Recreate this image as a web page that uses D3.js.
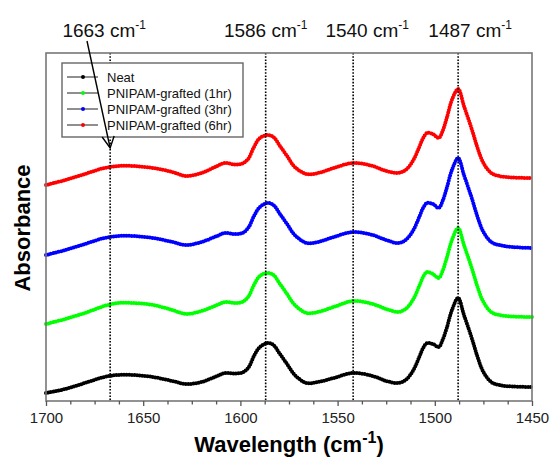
<!DOCTYPE html>
<html>
<head>
<meta charset="utf-8">
<script src="https://cdn.jsdelivr.net/npm/d3@7"></script>
<style>
body { margin: 0; background: #fff; }
svg { font-family: Arial, "Liberation Sans", sans-serif; }
</style>
</head>
<body>
<div id="chart"></div>
<script>
// wavenumbers (cm-1), shared by all four spectra
var wavenumbers = [1700, 1690, 1680, 1670, 1663, 1655, 1645, 1635, 1628, 1620,
    1612, 1608, 1603, 1599, 1596, 1593, 1590, 1586, 1583, 1580,
    1576, 1572, 1566, 1560, 1552, 1542, 1532, 1525, 1519, 1515,
    1511, 1508, 1506, 1504, 1501, 1498, 1496, 1494, 1491, 1488,
    1485, 1481, 1478, 1475, 1471, 1467, 1460, 1450];

// absorbance (a.u., stacked as in the figure)
var neat = [0.08, 0.12, 0.18, 0.24, 0.26, 0.26, 0.24, 0.20, 0.17, 0.19,
    0.25, 0.28, 0.275, 0.285, 0.33, 0.45, 0.54, 0.58, 0.56, 0.48,
    0.37, 0.26, 0.18, 0.19, 0.23, 0.28, 0.25, 0.20, 0.18, 0.21,
    0.31, 0.44, 0.53, 0.58, 0.57, 0.54, 0.61, 0.72, 0.92, 1.03,
    0.86, 0.63, 0.44, 0.29, 0.19, 0.16, 0.145, 0.14];
var grafted1 = [0.77, 0.82, 0.88, 0.95, 0.98, 0.98, 0.96, 0.91, 0.87, 0.90,
    0.96, 0.99, 0.98, 0.99, 1.04, 1.16, 1.25, 1.28, 1.26, 1.18,
    1.07, 0.96, 0.88, 0.89, 0.94, 1.00, 0.97, 0.92, 0.89, 0.92,
    1.02, 1.15, 1.24, 1.29, 1.27, 1.23, 1.30, 1.42, 1.62, 1.73,
    1.56, 1.33, 1.14, 0.99, 0.89, 0.86, 0.845, 0.84];
var grafted3 = [1.46, 1.51, 1.57, 1.63, 1.65, 1.65, 1.63, 1.59, 1.56, 1.59,
    1.65, 1.68, 1.67, 1.68, 1.73, 1.85, 1.94, 1.98, 1.96, 1.88,
    1.77, 1.66, 1.58, 1.59, 1.64, 1.69, 1.66, 1.61, 1.58, 1.61,
    1.71, 1.84, 1.93, 1.98, 1.97, 1.93, 2.00, 2.12, 2.32, 2.43,
    2.26, 2.03, 1.84, 1.69, 1.59, 1.56, 1.54, 1.53];
var grafted6 = [2.16, 2.21, 2.27, 2.33, 2.35, 2.35, 2.33, 2.29, 2.25, 2.28,
    2.35, 2.38, 2.365, 2.375, 2.42, 2.54, 2.63, 2.66, 2.64, 2.56,
    2.45, 2.34, 2.27, 2.28, 2.33, 2.38, 2.35, 2.30, 2.28, 2.31,
    2.41, 2.54, 2.63, 2.68, 2.67, 2.63, 2.70, 2.82, 3.02, 3.12,
    2.95, 2.72, 2.53, 2.38, 2.28, 2.25, 2.235, 2.23];

var seriesNames = ['Neat', 'PNIPAM-grafted (1hr)', 'PNIPAM-grafted (3hr)', 'PNIPAM-grafted (6hr)'];
var seriesValues = [neat, grafted1, grafted3, grafted6];
var seriesColors = ['#000000', '#00ff00', '#0000ff', '#ff0000'];

// dotted reference lines and their labels
var bandPositions = [1667, 1587, 1542, 1488];
var bandLabels = ['1663', '1586', '1540', '1487'];
var labelShift = [-6, 0, 14, 12];

var xTicks = [1700, 1650, 1600, 1550, 1500, 1450];

var width = 551,
    height = 461,
    plot = { left: 46, right: 532, top: 53, bottom: 401 },
    svg = d3.select('#chart').append('svg')
        .attr('width', width)
        .attr('height', height),
    x = d3.scaleLinear().domain([1700, 1450]).range([plot.left, plot.right]),
    y = d3.scaleLinear().domain([0, 3.48]).range([plot.bottom, plot.top]),
    line = d3.line()
        .x(function (d) { return x(d[0]); })
        .y(function (d) { return y(d[1]); })
        .curve(d3.curveCatmullRom.alpha(0.5));

// spectra
seriesValues.forEach(function (vals, i) {
    var pts = wavenumbers.map(function (w, j) { return [w, vals[j]]; });
    svg.append('path')
        .attr('d', line(pts))
        .attr('fill', 'none')
        .attr('stroke', '#333')
        .attr('stroke-width', 1);
    svg.append('path')
        .attr('d', line(pts))
        .attr('fill', 'none')
        .attr('stroke', seriesColors[i])
        .attr('stroke-width', 4)
        .attr('stroke-linecap', 'round')
        .attr('stroke-dasharray', '0 2.6');
});

// dotted band lines
svg.selectAll('line.band')
    .data(bandPositions)
    .enter()
    .append('line')
    .attr('class', 'band')
    .attr('x1', function (d) { return x(d); })
    .attr('x2', function (d) { return x(d); })
    .attr('y1', plot.top)
    .attr('y2', plot.bottom)
    .attr('stroke', '#000')
    .attr('stroke-width', 1.6)
    .attr('stroke-dasharray', '1.6 1.6');

// band labels on top
bandLabels.forEach(function (lab, i) {
    var t = svg.append('text')
        .attr('x', x(bandPositions[i]) + labelShift[i])
        .attr('y', 37)
        .attr('text-anchor', 'middle')
        .style('font-size', '19px')
        .style('fill', '#111');
    t.append('tspan').text(lab + ' cm');
    t.append('tspan').attr('dy', -8).style('font-size', '12px').text('-1');
});

// frame
svg.append('rect')
    .attr('x', plot.left)
    .attr('y', plot.top)
    .attr('width', plot.right - plot.left)
    .attr('height', plot.bottom - plot.top)
    .attr('fill', 'none')
    .attr('stroke', '#777')
    .attr('stroke-width', 1.6);

// x axis
var xAxis = svg.append('g')
    .attr('transform', 'translate(0,' + plot.bottom + ')')
    .call(d3.axisBottom(x).tickValues(xTicks).tickSize(5).tickPadding(6)
        .tickFormat(d3.format('d')));
xAxis.select('.domain').remove();
xAxis.selectAll('line').attr('stroke', '#555').attr('stroke-width', 1.3);
xAxis.selectAll('text')
    .style('font-size', '15px')
    .style('font-family', 'Arial, "Liberation Sans", sans-serif')
    .style('fill', '#222');

svg.append('g')
    .attr('transform', 'translate(0,' + plot.bottom + ')')
    .call(d3.axisBottom(x).tickValues(d3.range(1687.5, 1450, -12.5)
            .filter(function (d) { return d % 50 !== 0; }))
        .tickSize(3.5).tickFormat(''))
    .call(function (g) {
        g.select('.domain').remove();
        g.selectAll('line').attr('stroke', '#555').attr('stroke-width', 1.3);
    });

// axis titles
var xt = svg.append('text')
    .attr('x', 289)
    .attr('y', 452)
    .attr('text-anchor', 'middle')
    .style('font-size', '22px')
    .style('font-weight', 'bold');
xt.append('tspan').text('Wavelength (cm');
xt.append('tspan').attr('dy', -9).style('font-size', '16px').text('-1');
xt.append('tspan').attr('dy', 9).text(')');

svg.append('text')
    .attr('transform', 'translate(30,228) rotate(-90)')
    .attr('text-anchor', 'middle')
    .style('font-size', '22px')
    .style('font-weight', 'bold')
    .text('Absorbance');

// legend
var legend = svg.append('g');
legend.append('rect')
    .attr('x', 62)
    .attr('y', 63)
    .attr('width', 181)
    .attr('height', 74)
    .attr('fill', '#fff')
    .attr('stroke', '#666')
    .attr('stroke-width', 1.4);
seriesNames.forEach(function (name, i) {
    var ly = 77 + i * 16;
    legend.append('line')
        .attr('x1', 67).attr('x2', 98)
        .attr('y1', ly).attr('y2', ly)
        .attr('stroke', '#444')
        .attr('stroke-width', 1.2);
    legend.append('circle')
        .attr('cx', 83).attr('cy', ly).attr('r', 2)
        .attr('fill', seriesColors[i]);
    legend.append('text')
        .attr('x', 107)
        .attr('y', ly + 4.5)
        .style('font-size', '13px')
        .style('fill', '#111')
        .text(name);
});

// arrow to the 1663 band
svg.append('line')
    .attr('x1', 87).attr('y1', 41)
    .attr('x2', x(bandPositions[0])).attr('y2', 148)
    .attr('stroke', '#000')
    .attr('stroke-width', 1.4);
svg.append('path')
    .attr('d', 'M' + (x(bandPositions[0]) - 8) + ',137L' + x(bandPositions[0]) + ',148L' +
        (x(bandPositions[0]) + 4) + ',136')
    .attr('fill', 'none')
    .attr('stroke', '#000')
    .attr('stroke-width', 1.4);
</script>
</body>
</html>
